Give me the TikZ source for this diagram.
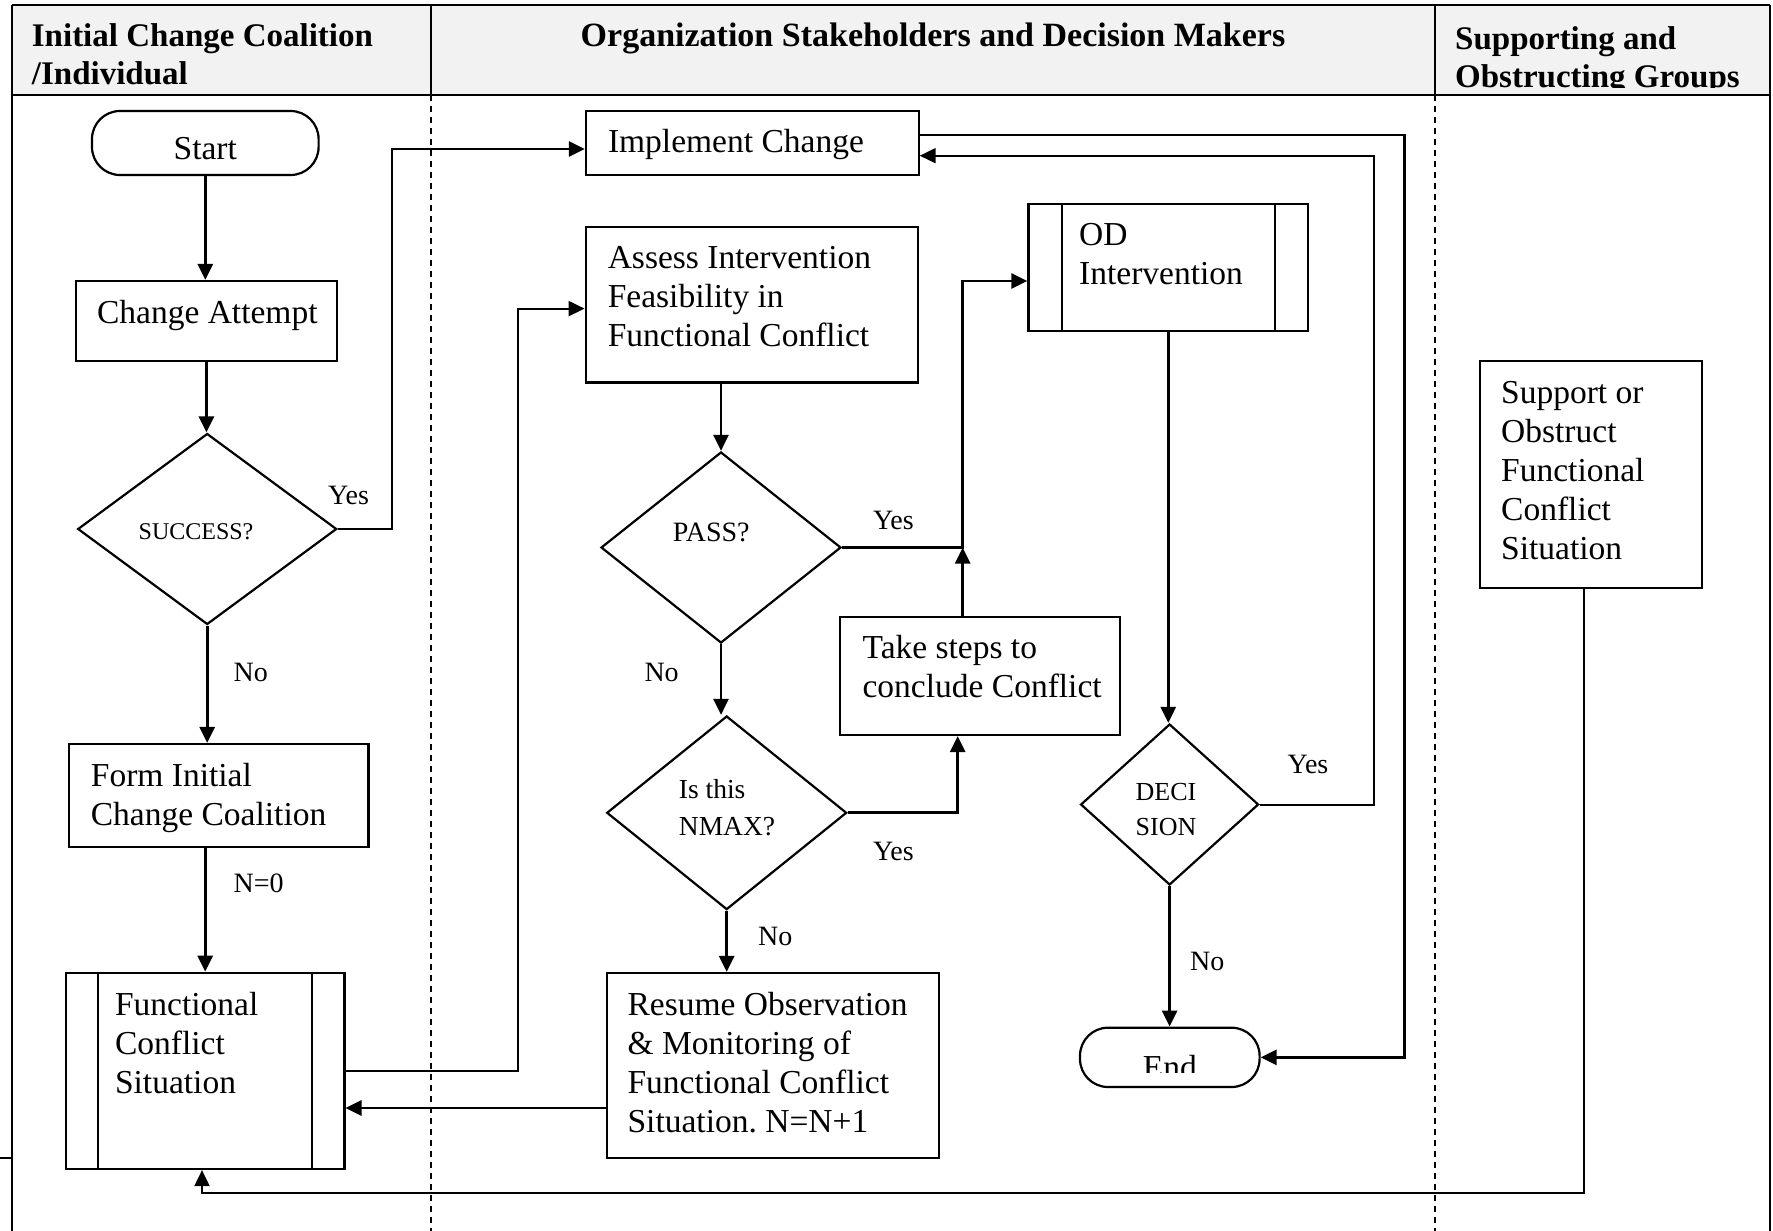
\documentclass[tikz,border=0pt]{standalone}
\usepackage{fontspec}
\setmainfont{Liberation Serif}
\usetikzlibrary{arrows.meta,shapes.geometric,calc}
\definecolor{hdr}{HTML}{F2F2F2}
\begin{document}
\frenchspacing
\begin{tikzpicture}[x=1pt,y=-1pt,
  box/.style={draw, line width=2.2pt, rectangle, inner sep=0pt},
  term/.style={draw, line width=2.2pt, rectangle, rounded corners=28pt, inner sep=0pt},
  dia/.style={draw, line width=2.2pt, diamond, inner sep=0pt},
  bt/.style={font=\fontsize{33.5}{39}\selectfont, align=left, inner sep=0pt, anchor=north west},
  bt1/.style={font=\fontsize{33.5}{39}\selectfont, inner sep=0pt, anchor=base},
  lt/.style={font=\fontsize{28}{32}\selectfont, inner sep=0pt, anchor=base west},
  ht/.style={font=\bfseries\fontsize{33}{38.5}\selectfont, align=left, inner sep=0pt, anchor=north west},
  conn/.style={line width=2.8pt},
  thin/.style={line width=2pt},
  arr/.style={-{Triangle[length=16pt,width=15pt]}},
  lane/.style={line width=1.5pt, dash pattern=on 6pt off 5pt}]
\useasboundingbox (0,0) rectangle (1773,1231);

% header
\fill[hdr] (11.7,5) rectangle (1770,95);
\begin{scope}
\clip (11.7,5) rectangle (1770,92);
\node[ht] (h1) at (31.7,19) {\strut Initial Change Coalition\\/Individual};
\node[font=\bfseries\fontsize{34}{38.5}\selectfont, inner sep=0pt, anchor=base] (h2) at (933,47) {Organization Stakeholders and Decision Makers};
\end{scope}
\begin{scope}
\clip (1435,5) rectangle (1770,88);
\node[ht] (h3) at (1455,22) {\strut Supporting and\\Obstructing Groups};
\end{scope}
\draw[line width=2.5pt] (11.7,5) -- (1770,5);
\draw[line width=2.5pt] (11.7,95) -- (1770,95);
\draw[line width=2pt] (11.7,5) -- (11.7,1231);
\draw[line width=2pt] (1770,5) -- (1770,1231);
\draw[line width=2pt] (0,1158) -- (11.7,1158);
\draw[line width=2pt] (431,5) -- (431,95);
\draw[line width=2pt] (1435,5) -- (1435,95);
\draw[lane] (431,95) -- (431,1231);
\draw[lane] (1435,95) -- (1435,1231);

% nodes
\node[term, minimum width=226.6pt, minimum height=64pt] (start) at (205.3,143) {};
\node[bt1] (tstart) at (205.3,159) {Start};
\node[box, minimum width=261.2pt, minimum height=80pt] (ca) at (206.4,321) {};
\node[bt1] (tca) at (207.3,323.3) {Change Attempt};
\node[dia, minimum width=259pt, minimum height=191pt] (succ) at (207.2,529) {};
\node[font=\fontsize{24}{28}\selectfont, inner sep=0pt, anchor=base west] (tsucc) at (138.5,539) {SUCCESS?};
\node[box, minimum width=299.5pt, minimum height=103pt] (form) at (218.75,795.5) {};
\node[bt] (tform) at (90.7,758.7) {\strut Form Initial\\Change Coalition};
\node[box, minimum width=278.4pt, minimum height=196.3pt] (fc) at (205.2,1070.85) {};
\draw[line width=2.2pt] ($(fc.north west)+(33.3,0)$) -- ($(fc.south west)+(33.3,0)$);
\draw[line width=2.2pt] ($(fc.north east)+(-33.4,0)$) -- ($(fc.south east)+(-33.4,0)$);
\node[bt] (tfc) at (114.8,987.7) {\strut Functional\\Conflict\\Situation};

\node[box, minimum width=332.6pt, minimum height=64pt] (impl) at (752.3,143) {};
\node[font=\fontsize{33.5}{39}\selectfont, inner sep=0pt, anchor=base west] (timpl) at (607.8,152) {Implement Change};
\node[box, minimum width=332.3pt, minimum height=155.5pt] (assess) at (751.85,304.75) {};
\node[bt] (tassess) at (607.6,241.3) {\strut Assess Intervention\\Feasibility in\\Functional Conflict};
\node[dia, minimum width=240pt, minimum height=191pt] (pass) at (721,547.5) {};
\node[font=\fontsize{28}{32}\selectfont, inner sep=0pt, anchor=base west] (tpass) at (672.6,541.8) {PASS?};
\node[dia, minimum width=240pt, minimum height=193.6pt] (nmax) at (726.7,812.8) {};
\node[font=\fontsize{27.5}{36.5}\selectfont, align=left, inner sep=0pt, anchor=north west] (tnmax) at (678.7,772.95) {\strut Is this\\NMAX?};
\node[box, minimum width=280pt, minimum height=118pt] (take) at (980,676) {};
\node[bt] (ttake) at (862.4,631.2) {\strut Take steps to\\conclude Conflict};
\node[box, minimum width=332.3pt, minimum height=185pt] (resume) at (772.85,1065.5) {};
\node[bt] (tresume) at (627.4,987.7) {\strut Resume Observation\\\& Monitoring of\\Functional Conflict\\Situation. N=N+1};

\node[box, minimum width=279.5pt, minimum height=126.6pt] (od) at (1168.25,267.3) {};
\draw[line width=2.2pt] ($(od.north west)+(34.5,0)$) -- ($(od.south west)+(34.5,0)$);
\draw[line width=2.2pt] ($(od.north east)+(-34.3,0)$) -- ($(od.south east)+(-34.3,0)$);
\node[bt] (tod) at (1079,217.9) {\strut OD\\Intervention};
\node[dia, minimum width=178pt, minimum height=161pt] (deci) at (1169.6,804.5) {};
\node[font=\fontsize{26}{35}\selectfont, align=center, inner sep=0pt, anchor=north] (tdeci) at (1166,775.5) {\strut DECI\\SION};
\node[term, minimum width=179.6pt, minimum height=59.3pt] (end) at (1169.8,1057.35) {};
\begin{scope}
\clip (1080,1027) rectangle (1260,1072);
\node[bt1] (tend) at (1169.8,1078) {End};
\end{scope}

\node[box, minimum width=222.3pt, minimum height=226.8pt] (support) at (1590.85,474.4) {};
\node[bt] (tsupport) at (1501,376.3) {\strut Support or\\Obstruct\\Functional\\Conflict\\Situation};

% coordinates
\coordinate (j1) at (392,149);
\coordinate (j2) at (1404.5,135);
\coordinate (j3) at (1374,155.7);
\coordinate (j4) at (517.7,308.6);
\coordinate (j5) at (606.7,1108);
\coordinate (j6) at (957.7,812.8);
\coordinate (j7) at (962.7,547.5);
\coordinate (j8) at (962.7,281);
\coordinate (j9) at (1584.3,1193);
\coordinate (j10) at (202,1193);

% connectors
\draw[conn,arr] (start.south) -- (start.south |- ca.north);
\draw[conn,arr] (ca.south) -- (ca.south |- succ.north);
\draw[conn,arr] (succ.south) -- (succ.south |- form.north);
\draw[conn,arr] (fc.north |- form.south) -- (fc.north);
\draw[conn,arr] (succ.east) -| (j1) -- (j1 -| impl.west);
\draw[conn,arr] (j2 -| impl.east) -- (j2) |- (end.east);
\draw[thin,arr] (deci.east) -| (j3) -- (j3 -| impl.east);
\draw[thin,arr] (fc.east) -| (j4) -- (j4 -| assess.west);
\draw[conn,arr] (pass.north |- assess.south) -- (pass.north);
\draw[conn,arr] (pass.south) -- (pass.south |- nmax.north);
\draw[conn,arr] (nmax.south) -- (nmax.south |- resume.north);
\draw[conn,arr] (j5) -- (j5 -| fc.east);
\draw[conn,arr] (nmax.east) -- (j6) -- (j6 |- take.south);
\draw[conn,arr] (j7 |- take.north) -- (j7);
\draw[conn,arr] (pass.east) -- (j7) -- (j8) -- (j8 -| od.west);
\draw[conn,arr] (od.south) -- (od.south |- deci.north);
\draw[conn,arr] (deci.south) -- (deci.south |- end.north);
\draw[thin,arr] (j9 |- support.south) -- (j9) -- (j10) -- (j10 |- fc.south);

% labels
\node[lt] (l1) at (328,504) {Yes};
\node[lt] (l2) at (233.5,681) {No};
\node[lt] (l3) at (233.5,892.6) {N=0};
\node[lt] (l4) at (872.8,529) {Yes};
\node[lt] (l5) at (644.3,681.4) {No};
\node[lt] (l6) at (872.8,860.5) {Yes};
\node[lt] (l7) at (758,945) {No};
\node[lt] (l8) at (1287.4,773.3) {Yes};
\node[lt] (l9) at (1190,970.7) {No};
\end{tikzpicture}
\end{document}
